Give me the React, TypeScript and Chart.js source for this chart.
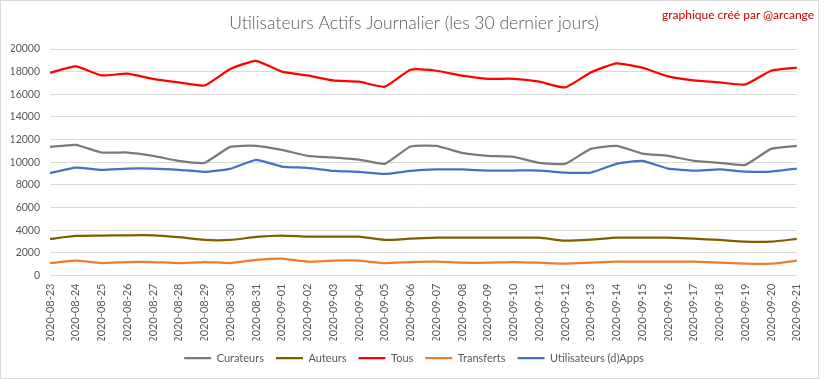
import React, { useEffect, useRef } from "react";
import { Chart, registerables } from "chart.js";

Chart.register(...registerables);

const dates = [
  "2020-08-23", "2020-08-24", "2020-08-25", "2020-08-26", "2020-08-27", "2020-08-28",
  "2020-08-29", "2020-08-30", "2020-08-31", "2020-09-01", "2020-09-02", "2020-09-03",
  "2020-09-04", "2020-09-05", "2020-09-06", "2020-09-07", "2020-09-08", "2020-09-09",
  "2020-09-10", "2020-09-11", "2020-09-12", "2020-09-13", "2020-09-14", "2020-09-15",
  "2020-09-16", "2020-09-17", "2020-09-18", "2020-09-19", "2020-09-20", "2020-09-21",
];

const curateurs = [11360, 11540, 10860, 10860, 10570, 10120, 9950, 11360, 11450, 11100, 10570, 10420, 10240, 9860, 11390, 11450, 10830, 10570, 10480, 9950, 9860, 11180, 11450, 10770, 10570, 10120, 9950, 9770, 11180, 11450];
const auteurs = [3230, 3490, 3520, 3550, 3550, 3380, 3140, 3140, 3400, 3520, 3430, 3430, 3430, 3140, 3250, 3340, 3340, 3340, 3340, 3340, 3080, 3170, 3340, 3340, 3340, 3250, 3140, 2990, 2990, 3230];
const tous = [17900, 18460, 17670, 17820, 17370, 17050, 16780, 18230, 18960, 18000, 17670, 17220, 17110, 16670, 18170, 18080, 17640, 17370, 17370, 17110, 16610, 17930, 18730, 18350, 17580, 17220, 17050, 16870, 18080, 18350];
const transferts = [1100, 1310, 1100, 1190, 1190, 1100, 1190, 1100, 1370, 1490, 1220, 1310, 1310, 1100, 1190, 1220, 1130, 1130, 1190, 1130, 1040, 1130, 1220, 1220, 1220, 1220, 1130, 1040, 1040, 1310];
const apps = [9040, 9530, 9330, 9440, 9440, 9330, 9150, 9420, 10210, 9620, 9500, 9240, 9150, 8970, 9240, 9360, 9360, 9270, 9270, 9270, 9090, 9090, 9860, 10120, 9440, 9270, 9360, 9180, 9180, 9440];

const seriesNames = ["Curateurs", "Auteurs", "Tous", "Transferts", "Utilisateurs (d)Apps"];
const seriesColors = ["#7a7a7a", "#7f6000", "#ff0000", "#ed7d31", "#4472c4"];
const seriesData = [curateurs, auteurs, tous, transferts, apps];

const titleText = "Utilisateurs Actifs Journalier (les 30 dernier jours)";
const creditText = "graphique créé par @arcange";
const yTicks = { min: 0, max: 20000, step: 2000 };

const FONT = "Lato, 'Open Sans', sans-serif";

export default function App() {
  const ref = useRef<HTMLCanvasElement | null>(null);

  useEffect(() => {
    if (!ref.current) return;
    const chart = new Chart(ref.current, {
      type: "line",
      data: {
        labels: dates,
        datasets: seriesNames.map((name, i) => ({
          label: name,
          data: seriesData[i],
          borderColor: seriesColors[i],
          backgroundColor: seriesColors[i],
          borderWidth: 2.25,
          pointRadius: 0,
          pointHoverRadius: 0,
          tension: 0.15,
          pointStyle: "line",
        })),
      },
      options: {
        responsive: false,
        animation: false,
        layout: { padding: { left: 10, right: 1, top: 0, bottom: 4.5 } },
        plugins: {
          title: {
            display: true,
            text: titleText,
            color: "#595959",
            font: { family: FONT, size: 17.5, weight: "300" as any, lineHeight: 1.2 },
            padding: { top: 11.5, bottom: 15.5 },
          },
          legend: {
            display: true,
            position: "bottom",
            labels: {
              usePointStyle: true,
              pointStyle: "line",
              pointStyleWidth: 27,
              color: "#595959",
              font: { family: FONT, size: 11 },
              padding: 12,
            },
          },
          tooltip: { enabled: false },
        },
        scales: {
          x: {
            grid: { display: false, drawTicks: false },
            border: { display: false },
            ticks: {
              minRotation: 90,
              maxRotation: 90,
              autoSkip: false,
              padding: 8,
              color: "#595959",
              font: { family: FONT, size: 11 },
            },
            afterFit: (s: any) => { s.height = 65; },
          },
          y: {
            min: yTicks.min,
            max: yTicks.max,
            grid: { color: "#d9d9d9", drawTicks: false, lineWidth: 1 },
            border: { display: false },
            ticks: {
              stepSize: yTicks.step,
              padding: 10,
              color: "#595959",
              font: { family: FONT, size: 10.5 },
              callback: (v: any) => String(v),
            },
            afterFit: (s: any) => { s.width = 39; },
          },
        },
      },
    });
    return () => chart.destroy();
  }, []);

  return (
    <div style={{ position: "fixed", left: 0, top: 0, width: 833, height: 379, background: "#fff" }}>
      <div
        style={{
          position: "absolute",
          left: 0,
          top: 0,
          width: 819,
          height: 379,
          boxSizing: "border-box",
          border: "1px solid #d9d9d9",
        }}
      >
        <canvas ref={ref} width={817} height={377} style={{ display: "block" }} />
      </div>
      <div
        style={{
          position: "absolute",
          left: 662,
          top: 7,
          fontFamily: FONT,
          fontSize: 12,
          color: "#c00000",
          whiteSpace: "nowrap",
        }}
      >
        {creditText}
      </div>
    </div>
  );
}
